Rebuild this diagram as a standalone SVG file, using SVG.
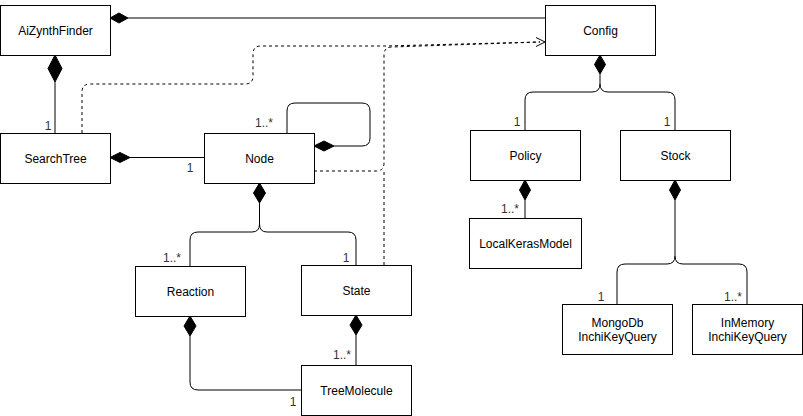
<svg xmlns="http://www.w3.org/2000/svg" width="803" height="416" viewBox="0 0 803 416">
<style>
.box{fill:#fff;stroke:#000;stroke-width:1}
.t{font-family:"Liberation Sans",Arial,sans-serif;font-size:12px;fill:#000;text-anchor:middle;dominant-baseline:central}
.l{font-family:"Liberation Sans",Arial,sans-serif;font-size:12px;fill:#333;text-anchor:middle}
.c{fill:none;stroke:#000;stroke-width:1}
.d{fill:none;stroke:#000;stroke-width:1;stroke-dasharray:3 3}
.dm{fill:#000;stroke:#000}
</style>
<rect width="803" height="416" fill="#fff"/>
<g id="connectors">
<!-- AiZynthFinder - Config -->
<path class="c" d="M128,18 H545"/>
<polygon class="dm" points="110,18 119,13 128,18 119,23"/>
<!-- AiZynthFinder - SearchTree -->
<path class="c" d="M55,82 V133"/>
<polygon class="dm" points="55,55 62,68.5 55,82 48,68.5"/>
<text class="l" x="48" y="130">1</text>
<!-- SearchTree - Node -->
<path class="c" d="M130,157.5 H204"/>
<polygon class="dm" points="110,157.5 120,152.5 130,157.5 120,162.5"/>
<text class="l" x="190" y="172">1</text>
<!-- Node self loop -->
<path class="c" d="M287,133 V111 Q287,103 295,103 H362 Q370,103 370,111 V138 Q370,146 362,146 H334"/>
<polygon class="dm" points="314,146 324,141 334,146 324,151"/>
<text class="l" x="264" y="127">1..*</text>
<!-- Dashed dependencies to Config -->
<path class="d" d="M82,133 V92 Q82,84 90,84 H245 Q253,84 253,76 V54 Q253,46 261,46 H385 L540,42"/>
<path class="d" d="M314,171 H376 Q384,171 384,163 V55 Q384,47 392,47 L540,42"/>
<path class="d" d="M384,265 V170"/>
<path class="c" d="M536,37.5 L545,42 L536,46.5"/>
<!-- Node - Reaction/State -->
<polygon class="dm" points="259.5,183 265.5,193 259.5,203 253.5,193"/>
<path class="c" d="M259.5,203 V224 Q259.5,232 252,232 H198 Q190,232 190,240 V266"/>
<path class="c" d="M259.5,224 Q259.5,232 267,232 H348 Q356,232 356,240 V265"/>
<text class="l" x="172" y="262">1..*</text>
<text class="l" x="346" y="262">1</text>
<!-- Reaction - TreeMolecule -->
<polygon class="dm" points="190,316 196,326 190,336 184,326"/>
<path class="c" d="M190,336 V382 Q190,390 198,390 H301"/>
<text class="l" x="293" y="406">1</text>
<!-- State - TreeMolecule -->
<polygon class="dm" points="356,315 362,325 356,335 350,325"/>
<path class="c" d="M356,335 V365"/>
<text class="l" x="342" y="359">1..*</text>
<!-- Config - Policy/Stock -->
<polygon class="dm" points="600,55 605.5,64.5 600,74 594.5,64.5"/>
<path class="c" d="M600,74 V84 Q600,92 592,92 H533 Q525,92 525,100 V130"/>
<path class="c" d="M600,84 Q600,92 608,92 H667 Q675,92 675,100 V130"/>
<text class="l" x="517" y="126">1</text>
<text class="l" x="667" y="126">1</text>
<!-- Policy - LocalKerasModel -->
<polygon class="dm" points="525,180 530.5,190 525,200 519.5,190"/>
<path class="c" d="M525,200 V218"/>
<text class="l" x="510" y="213">1..*</text>
<!-- Stock - MongoDb/InMemory -->
<polygon class="dm" points="675,180 680.5,190 675,200 669.5,190"/>
<path class="c" d="M675,200 V256 Q675,264 667,264 H625 Q617,264 617,272 V304"/>
<path class="c" d="M675,256 Q675,264 683,264 H739 Q747,264 747,272 V304"/>
<text class="l" x="601" y="301">1</text>
<text class="l" x="733" y="301">1..*</text>
</g>
<g id="AiZynthFinder"><rect class="box" x="0.5" y="5.5" width="110" height="50"/><text class="t" x="55.5" y="30.5">AiZynthFinder</text></g>
<g id="SearchTree"><rect class="box" x="0.5" y="133.5" width="110" height="50"/><text class="t" x="55.5" y="158.5">SearchTree</text></g>
<g id="Node"><rect class="box" x="204.5" y="133.5" width="110" height="50"/><text class="t" x="259.5" y="158.5">Node</text></g>
<g id="Config"><rect class="box" x="545.5" y="5.5" width="110" height="50"/><text class="t" x="600.5" y="30.5">Config</text></g>
<g id="Policy"><rect class="box" x="470.5" y="130.5" width="110" height="50"/><text class="t" x="525.5" y="155.5">Policy</text></g>
<g id="Stock"><rect class="box" x="620.5" y="130.5" width="110" height="50"/><text class="t" x="675.5" y="155.5">Stock</text></g>
<g id="LocalKerasModel"><rect class="box" x="469.5" y="218.5" width="112" height="50"/><text class="t" x="525.5" y="243.5">LocalKerasModel</text></g>
<g id="Reaction"><rect class="box" x="135.5" y="266.5" width="110" height="50"/><text class="t" x="190.5" y="291.5">Reaction</text></g>
<g id="State"><rect class="box" x="301.5" y="265.5" width="110" height="50"/><text class="t" x="356.5" y="290.5">State</text></g>
<g id="TreeMolecule"><rect class="box" x="301.5" y="365.5" width="110" height="50"/><text class="t" x="356.5" y="390.5">TreeMolecule</text></g>
<g id="MongoDbInchiKeyQuery"><rect class="box" x="562.5" y="304.5" width="110" height="50"/><text class="t" x="617.5" y="322.5">MongoDb</text><text class="t" x="617.5" y="336.5">InchiKeyQuery</text></g>
<g id="InMemoryInchiKeyQuery"><rect class="box" x="692.5" y="304.5" width="110" height="50"/><text class="t" x="747.5" y="322.5">InMemory</text><text class="t" x="747.5" y="336.5">InchiKeyQuery</text></g>
</svg>
